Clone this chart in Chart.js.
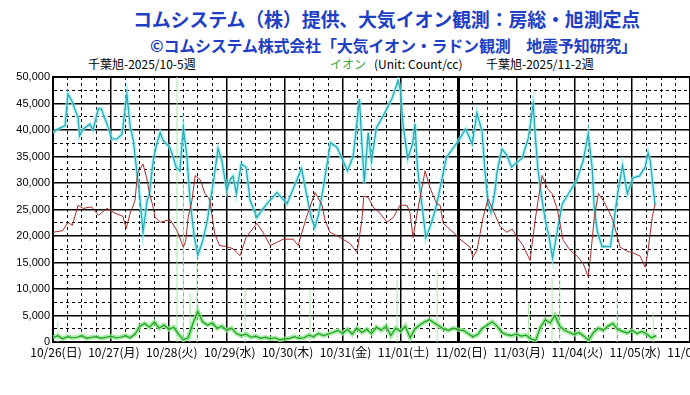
<!DOCTYPE html>
<html>
<head>
<meta charset="utf-8">
<script src="https://cdn.jsdelivr.net/npm/chart.js@4.4.0/dist/chart.umd.min.js"></script>
<style>
  body { margin: 0; width: 690px; height: 395px; overflow: hidden; background: #fff; position: relative; font-family: "Noto Sans CJK JP", sans-serif; }
  .t { position: absolute; white-space: nowrap; line-height: 1; }
  canvas { position: absolute; left: 0; top: 0; }
</style>
</head>
<body>
<div class="t" style="left:133px;top:9px;font-size:19px;font-weight:bold;color:#1f3fc4;letter-spacing:-0.2px">コムシステム（株）提供、大気イオン観測：房総・旭測定点</div>
<div class="t" style="left:150px;top:37px;font-size:16px;font-weight:bold;color:#1f3fc4;letter-spacing:-0.2px">©コムシステム株式会社「大気イオン・ラドン観測　地震予知研究」</div>
<div class="t" style="left:88px;top:58px;font-size:12px;color:#000">千葉旭-2025/10-5週</div>
<div class="t" style="left:330px;top:58px;font-size:12px;color:#3aa83a">イオン</div>
<div class="t" style="left:374px;top:58px;font-size:12px;color:#000">(Unit: Count/cc)</div>
<div class="t" style="left:486px;top:58px;font-size:12px;color:#000">千葉旭-2025/11-2週</div>
<canvas id="ionChart" width="800" height="395"></canvas>
<script>
// x軸: 10/26 0時からの経過時間(h)
const dayLabels = ['10/26(日)', '10/27(月)', '10/28(火)', '10/29(水)', '10/30(木)', '10/31(金)',
                   '11/01(土)', '11/02(日)', '11/03(月)', '11/04(火)', '11/05(水)', '11/06(木)'];

// イオン(水色)
const cyanHours = [0, 2, 5, 6.2, 7.8, 10.4, 11, 12.5, 15.3, 16.6, 18.8, 20, 22.4, 24.4, 26.5, 28.6,
  30.6, 32, 33.3, 34.7, 36, 37.3, 39, 40, 41.5, 43, 44.4, 45.7, 48.5, 49.7, 51, 52.6,
  54, 55.5, 56.8, 58.5, 60, 62, 64, 65.2, 66.4, 68.4, 70, 72, 73.4, 74.6, 76, 78,
  80, 81.7, 84.5, 86, 88.7, 92.8, 97, 101, 103, 105, 107, 108.5, 110, 112, 115, 117.7,
  122, 124.4, 127, 128, 129, 130.6, 132, 134, 136, 138.4, 140.5, 143, 144, 145, 147, 149,
  150, 151, 153, 154.5, 156.5, 158.5, 160.4, 163, 166, 168, 171, 173.7, 175.7, 177.8, 179, 180.3,
  181.5, 183, 184, 186, 188, 190, 192, 194.4, 197, 199, 199.8, 201, 202.7, 204, 205.5, 207,
  209, 211, 213, 217, 219.7, 221.8, 223.4, 224.3, 225.5, 227.5, 231, 232.5, 234, 236, 238, 240.4,
  243, 245.4, 246.6, 247.5, 249.5];
const cyanValues = [39500, 40200, 40800, 46800, 45500, 42300, 38900, 40200, 41100, 40000, 44000, 44000, 41100, 38300, 38300, 39200,
  46800, 40600, 38000, 32300, 27300, 20700, 26700, 28000, 34200, 37400, 39500, 38000, 36700, 35000, 33000, 32300,
  40400, 35000, 26700, 20000, 16400, 19000, 23000, 26700, 30000, 36500, 34200, 28600, 30600, 31300, 28000, 33600,
  33000, 26700, 23500, 24500, 26100, 28200, 26100, 30500, 32700, 28000, 23500, 21600, 24000, 29100, 37600, 36700,
  32300, 35000, 45900, 37400, 30000, 39500, 34200, 40400, 42000, 44000, 46000, 49300, 47500, 41200, 34600, 37400,
  41200, 33000, 25400, 19700, 22000, 25000, 29000, 34800, 36700, 38000, 40200, 37400, 43200, 39700, 32300, 26100,
  24500, 28000, 32000, 36400, 35300, 33000, 33800, 34700, 38500, 44900, 39200, 32300, 26700, 23000, 20000, 15800,
  21000, 26000, 27500, 30500, 34200, 39300, 33000, 25300, 21000, 18000, 18000, 23000, 28000, 33300, 28000, 31000,
  31300, 33000, 35700, 34200, 25800];

// 赤
const redHours = [0, 4, 6.2, 8, 10.4, 12.5, 16, 18.8, 22.4, 25.7, 29, 30.3, 32, 34, 35, 37.3,
  38.8, 40, 41.3, 42.3, 44.4, 48.5, 51.4, 54, 55, 56, 57.6, 58.9, 61, 63, 64.3, 65,
  67, 69, 72, 74.6, 77.5, 80, 84.5, 87, 90, 92.8, 95.3, 99.5, 101.6, 105, 108.6, 111.5,
  112.7, 114.8, 119, 123, 126, 128, 128.8, 130.6, 132.6, 135.5, 138.4, 141, 143.8, 146.7, 148, 149.2,
  150.9, 154.2, 156.3, 159, 160.4, 161.7, 165.8, 168.7, 172.8, 174, 175.7, 178.2, 180.3, 182.4, 185.3, 188,
  190.3, 192.3, 194.8, 197.7, 199.8, 201, 202.7, 204.8, 206.8, 209, 211.4, 214.3, 217.2, 219.7, 221.8, 223,
  224.3, 226, 228, 230, 232, 235, 238, 240.4, 243.3, 245.4, 246.6, 248.3, 249.5];
const redValues = [20700, 21000, 22600, 22000, 25800, 25200, 25500, 23900, 25200, 24300, 23700, 21400, 24300, 26700, 31800, 33600,
  31000, 28000, 25800, 23500, 22600, 23100, 21000, 17900, 19000, 23500, 26700, 31400, 30600, 28000, 27300, 26700,
  20500, 18200, 18000, 17600, 16300, 19700, 22400, 20700, 18200, 18800, 19400, 19400, 18200, 23500, 28200, 25800,
  23000, 20700, 19700, 18600, 16900, 23000, 27500, 27300, 25500, 24300, 22600, 23500, 25800, 25800, 24300, 19700,
  24300, 32300, 29000, 26100, 25800, 22400, 20700, 19400, 17900, 16000, 17300, 23500, 27000, 24800, 21800, 20700,
  21300, 19700, 18200, 15400, 23000, 26700, 31400, 29000, 28000, 25000, 19200, 17300, 16200, 14800, 12300, 17300,
  23500, 28000, 26700, 25000, 23000, 17900, 17100, 16800, 16200, 14100, 17300, 23500, 26000];

// 緑 (2時間おき)
const greenStep = 2;
const greenValues = [
  800, 1200, 600, 1000, 800, 900, 1200, 700, 900, 1000, 700, 900, 1100, 800, 900, 1200,
  800, 1500, 3000, 3500, 2800, 3800, 2600, 3200, 2400, 2800, 1500, 400, 800, 3500, 5800, 3800,
  3200, 3600, 2600, 3000, 2200, 2600, 1600, 1200, 1500, 900, 1100, 700, 900, 600, 800, 400,
  600, 700, 1000, 700, 800, 1300, 1000, 1600, 1200, 1500, 1800, 2200, 1600, 2400, 1500, 2600,
  1800, 2400, 1600, 2800, 2200, 3000, 1200, 2600, 2000, 3000, 800, 2500, 3200, 3800, 4200, 3600,
  3000, 2400, 2200, 2600, 2300, 2200, 1600, 1000, 1400, 2600, 3200, 3800, 3000, 1800, 1400, 1200,
  1500, 1100, 1300, 600, 300, 2800, 4200, 3600, 5000, 3000, 2200, 1800, 1400, 1800, 1100, 300,
  1800, 2600, 2200, 3000, 3500, 2400, 2000, 1700, 2200, 1600, 2000, 1500, 800, 1200];

// 緑の突出値
const spikeHours = [2, 51.4, 54, 56.8, 59.7, 79.6, 106.5, 142.6, 159.2, 197, 206.8, 210, 233.8, 248.7];
const spikeValues = [3700, 50000, 30000, 9200, 15000, 10100, 9800, 11700, 13500, 7300, 12000, 11700, 8500, 5600];

const pairs = (hs, vs) => hs.map((h, i) => ({ x: h, y: vs[i] }));
const cyanPts = pairs(cyanHours, cyanValues);
const redPts = pairs(redHours, redValues);
const greenPts = greenValues.map((v, i) => ({ x: i * greenStep, y: v }));
const spikePts = [];
spikeHours.forEach((h, i) => {
  spikePts.push({ x: h, y: 0 }, { x: h, y: spikeValues[i] }, { x: h, y: null });
});

const isDay = c => c.tick && c.tick.value % 24 === 0;
const isMajorY = c => c.tick && c.tick.value % 5000 === 0;

new Chart(document.getElementById('ionChart'), {
  type: 'line',
  data: {
    datasets: [
      { data: redPts, borderColor: '#a52a2a', borderWidth: 1, order: 1 },
      { data: cyanPts, borderColor: '#2aa6b2', borderWidth: 1.2, order: 2 },
      { data: cyanPts, borderColor: 'rgba(140,240,244,0.7)', borderWidth: 3.5, order: 3 },
      { data: greenPts, borderColor: '#1f9e1f', borderWidth: 1.2, order: 4 },
      { data: greenPts, borderColor: 'rgba(140,230,140,0.8)', borderWidth: 4.5, order: 5 },
      { data: spikePts, borderColor: '#a4eaa4', borderWidth: 1, order: 6 }
    ]
  },
  options: {
    responsive: false,
    animation: false,
    layout: { padding: { top: 77, right: 52, left: 0, bottom: 0 } },
    elements: { point: { radius: 0 }, line: { tension: 0 } },
    plugins: { legend: { display: false }, tooltip: { enabled: false } },
    scales: {
      x: {
        type: 'linear', min: 0, max: 288,
        afterFit: s => { s.height = 53; },
        ticks: {
          stepSize: 6, autoSkip: false, maxRotation: 0, padding: 3, labelOffset: 3, color: '#000',
          font: { family: '"Noto Sans CJK JP"', size: 12 },
          callback: v => (v % 24 === 0 && dayLabels[v / 24]) ? dayLabels[v / 24] : ''
        },
        grid: {
          color: '#000', drawTicks: false,
          lineWidth: c => (c.tick && c.tick.value === 168) ? 3 : (isDay(c) ? 1.5 : 1)
        },
        border: { color: '#000', width: 2, dash: c => isDay(c) ? [] : [3, 3] }
      },
      y: {
        min: 0, max: 50000,
        afterFit: s => { s.width = 53; },
        ticks: {
          stepSize: 2500, autoSkip: false, padding: 3, color: '#000',
          font: { family: '"Liberation Sans", Arial', size: 11 },
          callback: v => v % 5000 === 0 ? v.toLocaleString('en-US') : ''
        },
        grid: {
          color: '#000', drawTicks: false,
          lineWidth: c => (c.tick && c.tick.value === 50000) ? 2 : (isMajorY(c) ? 1.5 : 1)
        },
        border: { color: '#000', width: 2, dash: c => isMajorY(c) ? [] : [3, 3] }
      }
    }
  }
});
</script>
</body>
</html>
